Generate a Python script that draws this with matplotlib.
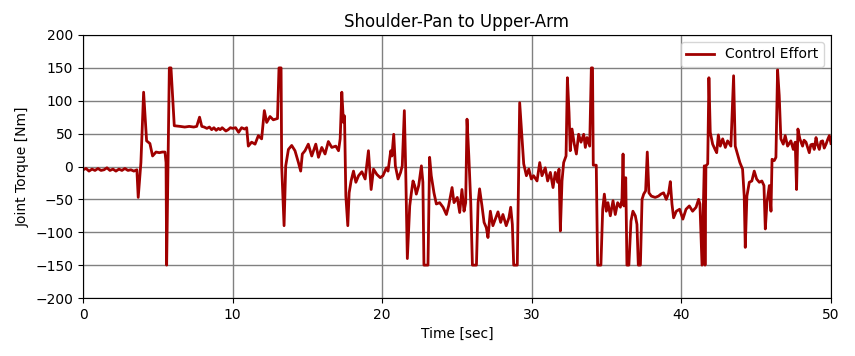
import matplotlib
matplotlib.use('Agg')
import matplotlib.pyplot as plt

# ==============================
# Dados (tempo [s], torque [Nm])
# ==============================
time_sec = [
    0.0, 0.2, 0.4, 0.6, 0.8, 1.0, 1.2, 1.4, 1.6, 1.8, 2.0, 2.2, 2.4, 2.6, 2.8, 3.0, 3.2, 3.4, 3.6,
    3.69, 3.87, 4.05, 4.25, 4.47, 4.65, 4.88, 5.1, 5.3, 5.48, 5.55, 5.59, 5.68, 5.77, 5.88, 6.1,
    6.49, 6.8, 7.1, 7.4, 7.6, 7.79, 7.94, 8.1, 8.28, 8.45, 8.6, 8.75, 8.9, 9.05, 9.17, 9.3, 9.4,
    9.55, 9.7, 9.85, 10.0,
    10.2, 10.4, 10.6, 10.8, 10.94, 11.05, 11.27, 11.5, 11.72, 11.94, 12.12, 12.28, 12.5, 12.72,
    13.0, 13.1, 13.24, 13.28, 13.44, 13.55, 13.73, 13.95, 14.17, 14.4, 14.55, 14.66, 14.84,
    15.06, 15.29, 15.56, 15.74, 15.96, 16.18, 16.4, 16.63, 16.9, 17.08, 17.19, 17.3, 17.41,
    17.48, 17.57, 17.7, 17.79, 17.92, 18.08, 18.24, 18.42, 18.64, 18.86, 19.08, 19.26, 19.42,
    19.64, 19.87, 20.05, 20.28, 20.39, 20.57, 20.65, 20.77, 20.88, 21.06, 21.23, 21.34, 21.48,
    21.57, 21.68, 21.84, 21.95, 22.06, 22.17, 22.28, 22.44, 22.62, 22.72, 22.79, 23.06, 23.17,
    23.28, 23.46, 23.62, 23.84, 24.07, 24.29, 24.44, 24.67, 24.8, 25.02, 25.18, 25.33, 25.47,
    25.58, 25.67, 25.79, 25.92, 26.03, 26.3, 26.41, 26.51, 26.67, 26.81, 26.96, 27.07, 27.23,
    27.4, 27.56, 27.74, 27.92, 28.07, 28.29, 28.47, 28.59, 28.7, 28.79, 29.03, 29.19, 29.35,
    29.46, 29.64, 29.8, 29.97, 30.12, 30.35, 30.53, 30.68, 30.9, 31.06, 31.24, 31.42, 31.57,
    31.73, 31.82, 31.91, 32.02, 32.13, 32.29, 32.38, 32.49, 32.57, 32.69, 32.84, 32.98, 33.13,
    33.29, 33.47, 33.58, 33.69, 33.87, 33.98, 34.06, 34.11, 34.31, 34.4, 34.62, 34.74, 34.85,
    34.98, 35.09, 35.25, 35.43, 35.58, 35.74, 35.92, 36.03, 36.1, 36.16, 36.28, 36.36, 36.49,
    36.63, 36.76, 36.92, 37.03, 37.12, 37.26, 37.37, 37.48, 37.61, 37.72, 37.83, 37.99, 38.25,
    38.47, 38.63, 38.81, 38.99, 39.15, 39.26, 39.37, 39.48, 39.66, 39.88, 40.1, 40.31, 40.53,
    40.75, 40.98, 41.15, 41.24, 41.38, 41.53, 41.58, 41.64, 41.76, 41.84, 41.93, 42.09, 42.25,
    42.36, 42.47, 42.6, 42.76, 42.94, 43.09, 43.31, 43.49, 43.6, 43.75, 43.91, 44.09, 44.2,
    44.27, 44.38, 44.54, 44.71, 44.87, 45.03, 45.21, 45.38, 45.52, 45.61, 45.72, 45.88, 45.99,
    46.06, 46.21, 46.32, 46.43, 46.54, 46.65, 46.81, 46.94, 47.1, 47.32, 47.48, 47.61, 47.7,
    47.79, 47.92, 48.1, 48.2, 48.33, 48.45, 48.55, 48.65, 48.77, 48.88, 49.0, 49.1, 49.22,
    49.33, 49.44, 49.55, 49.67, 49.78, 49.89, 50.0,
]

torque_nm = [
    -5, -3, -7, -4, -6, -3, -6, -5, -2, -6, -4, -7, -4, -6, -3, -6, -5, -7, -5,
    -47, 6, 113, 39, 35, 16, 22, 21, 22, 22, 6, -150, 6, 150, 150, 62,
    61, 60, 61, 60, 61, 75, 61, 60, 58, 60, 56, 59, 55, 58, 56, 59, 57,
    54, 56, 59, 58,
    59, 52, 59, 57, 59, 31, 37, 34, 47, 42, 85, 67, 76, 71,
    73, 150, 150, 1, -90, 1, 26, 32, 24, 6, -7, 19, 24,
    34, 16, 34, 14, 29, 19, 38, 29, 31, 24, 42, 113, 67,
    77, -45, -90, -40, -22, -7, -24, -14, -8, -19, 24, -35, -4,
    -12, -17, -14, -2, -7, 24, 16, 49, 1, -19, -9, 1, 85,
    -4, -140, -60, -40, -22, -29, -42, -29, 1, -24, -150, -150, 14,
    -14, -40, -57, -55, -62, -73, -60, -32, -55, -47, -70, -35, -68,
    -55, 72, 16, -55, -150, -150, -55, -34, -60, -85, -93, -108, -68,
    -90, -80, -69, -85, -73, -90, -78, -62, -88, -150, -150, 97, 42,
    4, -14, -4, -19, -14, -22, 6, -14, -2, -22, -9, -32, -9,
    -24, -4, -98, -22, 6, 16, 135, 82, 24, 57, 34, 19, 49,
    37, 49, 29, 44, 31, 150, 150, 2, 2, -150, -150, -65, -42,
    -68, -55, -75, -52, -73, -55, -62, -50, 19, -60, -17, -150, -150,
    -83, -68, -75, -88, -150, -150, -50, -42, -37, 22, -40, -45, -47,
    -45, -42, -40, -50, -40, -23, -57, -78, -68, -65, -80, -65, -60,
    -68, -62, -50, -57, -150, 1, -150, 1, 4, 135, 52, 34, 26,
    21, 48, 31, 42, 29, 39, 31, 138, 31, 19, 6, -4, -45,
    -123, -45, -24, -22, -7, -19, -24, -22, -29, -95, -55, -29, -68,
    11, 9, 14, 147, 108, 42, 34, 47, 31, 39, 26, 37, -35,
    57, 42, 31, 40, 37, 28, 21, 33, 34, 26, 44, 33, 26,
    38, 39, 28, 34, 41, 47, 35,
]

# ==============================
# Gráfico
# ==============================
fig = plt.figure(figsize=(8.55, 3.56), dpi=100)
ax = fig.add_axes([0.0971, 0.1629, 0.8748, 0.7388])

ax.plot(time_sec, torque_nm, color='#a00000', linewidth=2, label='Control Effort')

ax.set_xlim(0, 50)
ax.set_ylim(-200, 200)
ax.set_xticks([0, 10, 20, 30, 40, 50])
ax.set_yticks(range(-200, 201, 50))
ax.grid(True, color='gray', linewidth=1)
ax.set_axisbelow(True)

ax.set_title('Shoulder-Pan to Upper-Arm', fontsize=12)
ax.set_xlabel('Time [sec]')
ax.set_ylabel('Joint Torque [Nm]')
ax.legend(loc='upper right')

fig.savefig('out.png', dpi=100)
